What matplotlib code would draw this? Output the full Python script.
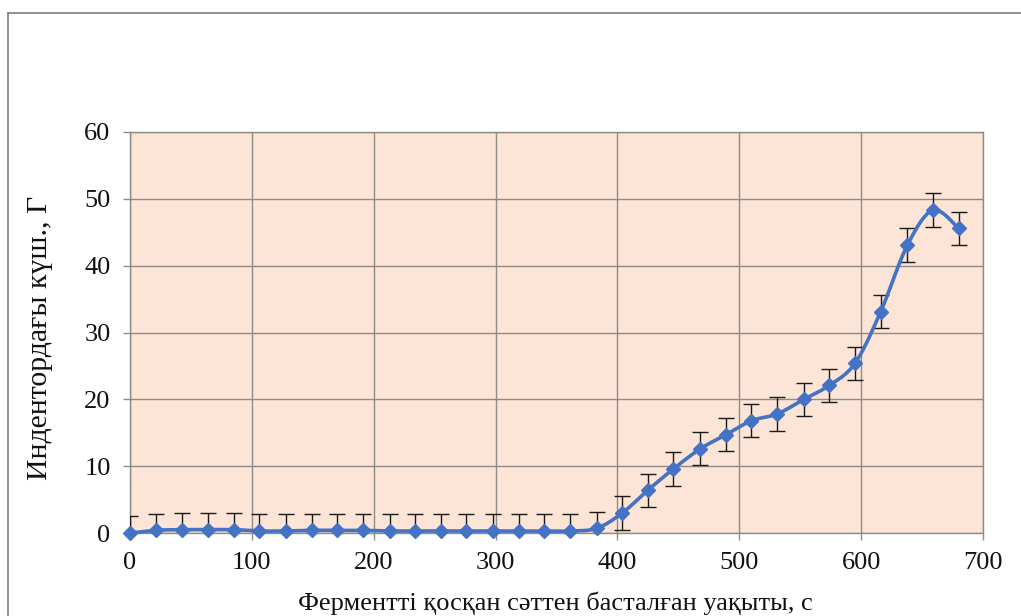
import numpy as np
import matplotlib
matplotlib.use("Agg")
import matplotlib.pyplot as plt
from matplotlib.lines import Line2D

plt.rcParams['font.family'] = ['Liberation Serif', 'DejaVu Serif']

# Time since enzyme addition, s
time_s = [0, 21, 43, 64, 85, 106, 128, 149, 170, 191, 213, 234, 255, 276, 298,
          319, 340, 361, 383, 404, 425, 446, 468, 489, 510, 531, 553, 574, 595,
          616, 638, 659, 680]
# Force on the indenter, g
force = [0.0, 0.4, 0.5, 0.5, 0.5, 0.3, 0.3, 0.4, 0.4, 0.4, 0.3, 0.3, 0.3, 0.3, 0.3,
         0.3, 0.3, 0.3, 0.7, 3.0, 6.4, 9.6, 12.6, 14.7, 16.8, 17.8, 20.0, 22.1, 25.4,
         33.1, 43.1, 48.3, 45.6]
# Measurement error, g
error = [2.5] * 33

xticks = [0, 100, 200, 300, 400, 500, 600, 700]
yticks = [0, 10, 20, 30, 40, 50, 60]

xlabel = "Ферментті қосқан сəттен басталған уақыты, с"
ylabel = "Индентордағы күш., Г"

line_color = "#4472C4"
grid_color = "#8F8B87"
face_color = "#FCE4D6"


def smooth_curve(x, y, n=20):
    """Bezier smoothing through every point (Catmull-Rom style, tension 1/6)."""
    p = np.column_stack([x, y]).astype(float)
    ext = np.vstack([p[0], p, p[-1]])
    t = np.linspace(0, 1, n)[:, None]
    out = []
    for i in range(len(p) - 1):
        p0, p1, p2, p3 = ext[i], ext[i + 1], ext[i + 2], ext[i + 3]
        c1 = p1 + (p2 - p0) / 6.0
        c2 = p2 - (p3 - p1) / 6.0
        seg = ((1 - t) ** 3) * p1 + 3 * ((1 - t) ** 2) * t * c1 + 3 * (1 - t) * t ** 2 * c2 + t ** 3 * p2
        out.append(seg if i == 0 else seg[1:])
    c = np.vstack(out)
    return c[:, 0], c[:, 1]


W, H = 1021, 616
fig = plt.figure(figsize=(W / 100, H / 100), dpi=100)
fig.patch.set_facecolor("white")

ax = fig.add_axes([130 / W, 1 - 533 / H, (983 - 130) / W, (533 - 132) / H])
ax.set_facecolor(face_color)

ax.set_xlim(0, 700)
ax.set_ylim(0, 60)
ax.set_xticks(xticks)
ax.set_yticks(yticks)
ax.grid(True, color=grid_color, linewidth=1.0)
ax.set_axisbelow(True)

for s in ax.spines.values():
    s.set_color(grid_color)
    s.set_linewidth(1.0)

ax.tick_params(axis="both", direction="out", length=5, width=1, color=grid_color,
               labelsize=19, pad=9, labelcolor="#111111")

# error bars
ax.errorbar(time_s, force, yerr=error, fmt="none", ecolor="#1a1a1a",
            elinewidth=1.0, capsize=5.5, capthick=1.0, zorder=3)

# smoothed line with diamond markers
sx, sy = smooth_curve(time_s, force)
ax.plot(sx, sy, color=line_color, linewidth=2.6, zorder=4, clip_on=False,
        solid_capstyle="round")
ax.plot(time_s, force, linestyle="none", marker="D", markersize=7,
        color=line_color, zorder=5, clip_on=False)

fig.text(555 / W, 1 - 603 / H, xlabel, ha="center", va="center", fontsize=19,
         color="#111111")
fig.text(40 / W, 1 - 338 / H, ylabel, ha="center", va="center", rotation=90,
         fontsize=21.5, color="#111111")

# outer chart frame
fig.add_artist(Line2D([7.5 / W, 1.0], [1 - 12.5 / H, 1 - 12.5 / H],
                      transform=fig.transFigure, color="#7F7F7F", linewidth=1.2))
fig.add_artist(Line2D([7.5 / W, 7.5 / W], [0.0, 1 - 12.5 / H],
                      transform=fig.transFigure, color="#7F7F7F", linewidth=1.2))

fig.savefig("out.png", dpi=100, facecolor="white")
